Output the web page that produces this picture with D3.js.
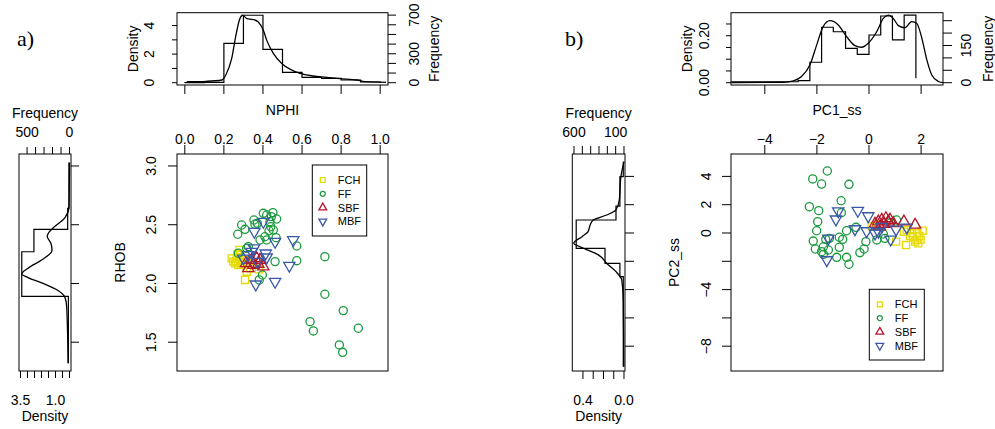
<!DOCTYPE html>
<html><head><meta charset="utf-8">
<script src="https://cdn.jsdelivr.net/npm/d3@7"></script>
<style>body{margin:0;background:#fff}svg{display:block}</style>
</head><body><svg id="c" width="995" height="429"></svg>
<script>
// ---------------- DATA ----------------
const classes = ["FCH", "FF", "SBF", "MBF"];
// Panel a: NPHI vs RHOB
const fchNphi = [0.248,0.257,0.266,0.274,0.283,0.291,0.279,0.300,0.317,0.308,0.337,0.380,0.317,0.240,0.334,0.269,0.262,0.287];
const fchRhob = [2.186,2.172,2.214,2.157,2.243,2.200,2.285,2.172,2.100,2.030,2.194,2.121,2.200,2.214,2.129,2.251,2.190,2.160];
const ffNphi = [0.271,0.291,0.308,0.354,0.359,0.402,0.419,0.451,0.470,0.436,0.440,0.431,0.410,0.385,0.419,0.467,0.325,0.317,0.274,0.462,0.573,0.573,0.397,0.381,0.371,0.443,0.453,0.717,0.717,0.811,0.641,0.658,0.888,0.791,0.808];
const ffRhob = [2.419,2.498,2.461,2.540,2.504,2.597,2.583,2.603,2.549,2.526,2.483,2.449,2.398,2.370,2.370,2.390,2.313,2.300,2.257,2.186,2.319,2.194,2.072,2.030,2.512,2.569,2.455,2.228,1.908,1.769,1.675,1.596,1.619,1.477,1.414];
const sbfNphi = [0.342,0.368,0.385,0.402,0.325,0.351,0.313,0.376];
const sbfRhob = [2.200,2.214,2.200,2.143,2.129,2.157,2.172,2.166];
const mbfNphi = [0.356,0.402,0.462,0.555,0.535,0.462,0.363,0.354,0.342,0.414,0.419,0.325,0.371,0.300];
const mbfRhob = [2.441,2.526,2.356,2.370,2.151,2.015,1.993,2.300,2.271,2.257,2.223,2.243,2.186,2.214];
// Panel b: PC1_ss vs PC2_ss
const fchPc1 = [0.10,0.27,1.34,1.45,1.64,1.70,1.83,1.93,2.06,1.98,1.04,1.42,1.77,1.57,1.85,1.89];
const fchPc2 = [0.49,0.57,0.09,0.21,-0.02,-0.30,-0.49,-0.21,0.16,-0.49,-0.61,-0.85,-0.61,-0.21,-0.02,-0.73];
const ffPc1 = [-2.16,-1.60,-1.82,-0.77,-2.29,-1.93,-1.07,-1.06,-1.97,-2.01,-2.14,-2.06,-1.82,-1.75,-1.66,-1.52,-1.56,-1.75,-1.24,-1.14,-1.14,-1.01,-0.86,-0.77,-0.86,-0.50,-0.12,-0.19,-0.35,0.30,0.61,0.55,0.84,1.06];
const ffPc2 = [3.82,4.38,3.46,3.44,1.86,1.58,2.28,1.43,0.80,0.16,-0.57,-1.13,-1.32,-0.97,-0.45,-0.38,-1.20,-1.51,-1.72,-1.01,-0.30,-0.45,-1.72,-2.21,0.16,0.40,-0.61,-1.13,-1.39,-0.49,-0.38,-0.07,0.73,0.92];
const sbfPc1 = [0.36,0.49,0.65,0.74,0.58,0.93,1.34,1.77,0.42,0.81,0.23];
const sbfPc2 = [0.80,0.92,1.04,0.80,0.64,0.69,0.80,0.57,0.45,0.92,0.64];
const mbfPc1 = [-1.62,-1.56,-1.27,-1.18,-0.43,-0.03,-0.54,-0.09,0.23,0.49,0.83,1.04,1.45,0.36];
const mbfPc2 = [-1.91,-0.38,0.97,1.55,1.58,1.20,0.28,0.14,-0.02,0.45,-0.45,0.26,0.40,0.09];

// Marginal histograms (density) and density curves
const nphiBreaks = [0,0.1,0.2,0.3,0.4,0.5,0.6,0.7,0.8,0.9,1.0];
const nphiDensity = [0.01,0.03,2.75,4.72,2.33,0.72,0.37,0.30,0.19,0.05];
const nphiCurveX = [0.01,0.11,0.19,0.21,0.24,0.26,0.279,0.296,0.317,0.351,0.376,0.402,0.419,0.453,0.496,0.538,0.59,0.658,0.726,0.794,0.88,0.93,1.03];
const nphiCurveD = [0.07,0.10,0.19,0.54,1.70,3.20,4.37,4.72,4.49,4.42,4.25,3.67,2.98,2.05,1.35,0.95,0.65,0.47,0.38,0.28,0.19,0.07,0.03];

const rhobBreaks = [3.03,2.64,2.46,2.27,1.89,1.32];
const rhobDensity = [0.04,0.13,2.54,3.41,0.08];
const rhobCurveY = [3.03,2.65,2.56,2.48,2.43,2.40,2.34,2.28,2.20,2.13,2.08,2.05,2.00,1.94,1.88,1.80,1.32];
const rhobCurveD = [0.00,0.04,0.32,1.10,1.50,1.59,1.32,1.25,1.99,2.96,3.41,2.96,1.89,0.82,0.32,0.20,0.10];

const pc1Breaks = [-5.3,-2.72,-2.27,-1.82,-1.37,-0.90,-0.45,0.0,0.45,0.90,1.35,1.80];
const pc1Density = [0.004,0.009,0.087,0.236,0.217,0.146,0.121,0.203,0.284,0.182,0.288];
const pc1LastDrop = 0.019;
const pc1CurveX = [-5.28,-3.3,-2.9,-2.59,-2.27,-2.01,-1.76,-1.5,-1.18,-0.86,-0.54,-0.28,-0.03,0.30,0.55,0.74,0.93,1.13,1.38,1.64,1.83,2.03,2.22,2.41,2.67,2.84];
const pc1CurveD = [0.0,0.002,0.008,0.026,0.075,0.16,0.239,0.264,0.246,0.196,0.158,0.151,0.168,0.218,0.274,0.288,0.274,0.243,0.234,0.26,0.253,0.189,0.097,0.033,0.005,0.0];

const pc2Breaks = [5.04,3.98,1.90,0.92,-1.08,-2.14,-3.09,-9.45];
const pc2Density = [0.007,0.04,0.078,0.466,0.185,0.04,0.007];
const pc2CurveY = [5.04,3.98,2.33,1.63,1.27,0.92,0.57,0.10,-0.26,-0.73,-1.08,-1.55,-2.14,-2.73,-3.32,-4.73,-9.45];
const pc2CurveD = [0.0,0.03,0.046,0.078,0.168,0.30,0.33,0.35,0.41,0.49,0.395,0.25,0.17,0.078,0.022,0.007,0.002];

// counts per unit density (links density axis to frequency axis)
const nphiCountsPerDensity = 148;
const rhobCountsPerDensity = 165;
const pc1CountsPerDensity = 947;
const pc2CountsPerDensity = 1231;

// tick values / labels
const nphiTicks = [0,0.2,0.4,0.6,0.8,1.0];
const rhobTicks = [1.5,2.0,2.5,3.0];
const pc1Ticks = [-4,-2,0,2];
const pc2Ticks = [-8,-6,-4,-2,0,2,4];
const pc2Labels = [-8,-4,0,2,4];
const nphiDensTicks = [0,1,2,3,4], nphiDensLabels = [0,2,4];
const nphiFreqTicks = [0,100,200,300,400,500,600,700], nphiFreqLabels = [0,300,700];
const rhobFreqTicks = [0,100,200,300,400,500], rhobFreqLabels = [500,0];
const rhobDensTicks = [0,0.5,1.0,1.5,2.0,2.5,3.0,3.5], rhobDensLabels = [3.5,1.0];
const pc1DensTicks = [0,0.05,0.10,0.15,0.20,0.25], pc1DensLabels = [0,0.2];
const pc1FreqTicks = [0,50,100,150,200,250], pc1FreqLabels = [0,150];
const pc2FreqTicks = [0,100,200,300,400,500,600], pc2FreqLabels = [600,100];
const pc2DensTicks = [0,0.1,0.2,0.3,0.4], pc2DensLabels = [0.4,0];

// ---------------- DRAW ----------------
const svg = d3.select('#c');
svg.append('rect').attr('width',995).attr('height',429).attr('fill','#fff');
const FONT = '"Liberation Sans", Arial, Helvetica, sans-serif';
const colors = {FCH:'#e6da00', FF:'#1a9a3c', SBF:'#b3172c', MBF:'#3a58a6'};
const minus = s => String(s).replace('-', '\u2212');

function box(x0,y0,x1,y1){
  svg.append('rect').attr('x',x0).attr('y',y0).attr('width',x1-x0).attr('height',y1-y0)
    .attr('fill','none').attr('stroke','#000').attr('stroke-width',1);
}
function hTicks(scale, vals, y, len){
  svg.append('g').selectAll('line').data(vals).join('line')
    .attr('x1', d=>scale(d)).attr('x2', d=>scale(d)).attr('y1', y).attr('y2', y+len)
    .attr('stroke','#000').attr('stroke-width',1);
}
function vTicks(scale, vals, x, len){
  svg.append('g').selectAll('line').data(vals).join('line')
    .attr('y1', d=>scale(d)).attr('y2', d=>scale(d)).attr('x1', x).attr('x2', x+len)
    .attr('stroke','#000').attr('stroke-width',1);
}
function htext(x,y,str,size,anchor,family){
  return svg.append('text').attr('x',x).attr('y',y).text(str)
    .attr('font-family', family||FONT).attr('font-size',size).attr('text-anchor',anchor||'middle').attr('fill','#000');
}
function vtext(bx,cy,str,size){
  return svg.append('text').attr('transform',`translate(${bx},${cy}) rotate(-90)`).text(str)
    .attr('font-family',FONT).attr('font-size',size).attr('text-anchor','middle').attr('fill','#000');
}
function hLabels(scale, vals, y, fmt){ vals.forEach(v => htext(scale(v), y, fmt(v), 14)); }
function vLabels(scale, vals, bx, fmt){ vals.forEach(v => vtext(bx, scale(v), fmt(v), 14)); }

function stepPathH(breaks, dens, sx, sy, start, end){
  const pts = [[breaks[0], start]];
  dens.forEach((d,i)=>{ pts.push([breaks[i], d]); pts.push([breaks[i+1], d]); });
  pts.push([breaks[breaks.length-1], end]);
  svg.append('path').attr('d', d3.line().x(p=>sx(p[0])).y(p=>sy(p[1]))(pts))
    .attr('fill','none').attr('stroke','#000').attr('stroke-width',1.2);
}
function stepPathV(breaks, dens, sx, sy){
  const pts = [];
  dens.forEach((d,i)=>{ pts.push([d, breaks[i]]); pts.push([d, breaks[i+1]]); });
  svg.append('path').attr('d', d3.line().x(p=>sx(p[0])).y(p=>sy(p[1]))(pts))
    .attr('fill','none').attr('stroke','#000').attr('stroke-width',1.2);
}
function curveH(xs, ds, sx, sy){
  svg.append('path').attr('d', d3.line().curve(d3.curveMonotoneX).x((d,i)=>sx(xs[i])).y((d,i)=>sy(ds[i]))(xs))
    .attr('fill','none').attr('stroke','#000').attr('stroke-width',1.3);
}
function curveV(ys, ds, sx, sy){
  svg.append('path').attr('d', d3.line().curve(d3.curveMonotoneY).x((d,i)=>sx(ds[i])).y((d,i)=>sy(ys[i]))(ys))
    .attr('fill','none').attr('stroke','#000').attr('stroke-width',1.3);
}
const symbols = {
  FCH:{type:d3.symbolSquare, size:50, rot:0, lsize:24},
  FF:{type:d3.symbolCircle, size:52, rot:0, lsize:20},
  SBF:{type:d3.symbolTriangle, size:56, rot:0, lsize:26},
  MBF:{type:d3.symbolTriangle, size:56, rot:180, lsize:26}
};
function points(xs, ys, sx, sy, cls){
  const s = symbols[cls];
  svg.append('g').selectAll('path').data(xs).join('path')
    .attr('transform',(d,i)=>`translate(${sx(xs[i])},${sy(ys[i])}) rotate(${s.rot})`)
    .attr('d', d3.symbol().type(s.type).size(s.size)())
    .attr('fill','none').attr('stroke',colors[cls]).attr('stroke-width',1.3);
}
function legend(x0,y0,x1,y1){
  box(x0,y0,x1,y1);
  classes.forEach((c,i)=>{
    const s = symbols[c];
    const cy = y0 + 15 + i*13.8, cx = x0 + 10.5;
    svg.append('path').attr('transform',`translate(${cx},${cy}) rotate(${s.rot})`)
      .attr('d', d3.symbol().type(s.type).size(s.lsize)())
      .attr('fill','none').attr('stroke',colors[c]).attr('stroke-width',1.3);
    htext(cx+15, cy+4, c, 11, 'start');
  });
}

// ================= PANEL A =================
const xA = d3.scaleLinear().domain([-0.04,1.04]).range([177,388]);
const yDensA = d3.scaleLinear().domain([-0.16,4.9]).range([85,12.7]);
const yA = d3.scaleLinear().domain([1.255,3.102]).range([371,154]);
const xDensA = d3.scaleLinear().domain([3.607,-0.107]).range([19,71]);

htext(17,46,'a)',22,'start','"Liberation Serif", "Times New Roman", serif');

box(177,12.7,388,85);
stepPathH(nphiBreaks, nphiDensity, xA, yDensA, 0, 0);
curveH(nphiCurveX, nphiCurveD, xA, yDensA);
vTicks(yDensA, nphiDensTicks, 177, -5);
vLabels(yDensA, nphiDensLabels, 154, d=>String(d));
vtext(137.7, (12.7+85)/2, 'Density', 14);
const fA = v => yDensA(v / nphiCountsPerDensity);
vTicks(fA, nphiFreqTicks, 388, 8);
vLabels(fA, nphiFreqLabels, 418.5, d=>String(d));
vtext(438.5, (12.7+85)/2, 'Frequency', 14);
hTicks(xA, nphiTicks, 85, 9);
htext((177+388)/2, 115, 'NPHI', 14);

box(177,154,388,371);
hTicks(xA, nphiTicks, 154, -9);
hLabels(xA, nphiTicks, 144, d=>d.toFixed(1));
vTicks(yA, rhobTicks, 177, -9);
vLabels(yA, rhobTicks, 156, d=>d.toFixed(1));
vtext(125, (154+371)/2, 'RHOB', 14);
points(fchNphi, fchRhob, xA, yA, 'FCH');
points(ffNphi, ffRhob, xA, yA, 'FF');
points(sbfNphi, sbfRhob, xA, yA, 'SBF');
points(mbfNphi, mbfRhob, xA, yA, 'MBF');
legend(312.3,165,366.7,236);

box(19,154,71,371);
stepPathV(rhobBreaks, rhobDensity, xDensA, yA);
curveV(rhobCurveY, rhobCurveD, xDensA, yA);
vTicks(yA, rhobTicks, 71, 8);
const fxA = v => xDensA(v / rhobCountsPerDensity);
hTicks(fxA, rhobFreqTicks, 154, -7);
hLabels(fxA, rhobFreqLabels, 137, d=>String(d));
htext(45, 118, 'Frequency', 14);
hTicks(xDensA, rhobDensTicks, 371, 7);
hLabels(xDensA, rhobDensLabels, 405, d=>d.toFixed(1));
htext(45, 421, 'Density', 14);

// ================= PANEL B =================
const xB = d3.scaleLinear().domain([-5.298,2.841]).range([731,943]);
const yDensB = d3.scaleLinear().domain([-0.0098,0.298]).range([85,12.7]);
const yB = d3.scaleLinear().domain([-9.753,5.583]).range([371,154]);
const xDensB = d3.scaleLinear().domain([0.504,-0.0098]).range([572.3,625]);

htext(565,46,'b)',22,'start','"Liberation Serif", "Times New Roman", serif');

box(731,12.7,943,85);
stepPathH(pc1Breaks, pc1Density, xB, yDensB, pc1Density[0], pc1LastDrop);
curveH(pc1CurveX, pc1CurveD, xB, yDensB);
vTicks(yDensB, pc1DensTicks, 731, -5);
vLabels(yDensB, pc1DensLabels, 708.5, d=>d.toFixed(2));
vtext(692, (12.7+85)/2, 'Density', 14);
const fB = v => yDensB(v / pc1CountsPerDensity);
vTicks(fB, pc1FreqTicks, 943, 9);
vLabels(fB, pc1FreqLabels, 971, d=>String(d));
vtext(992.5, (12.7+85)/2, 'Frequency', 14);
hTicks(xB, pc1Ticks, 85, 9);
htext((731+943)/2, 115, 'PC1_ss', 14);

box(731,154,943,371);
hTicks(xB, pc1Ticks, 154, -9);
hLabels(xB, pc1Ticks, 144, d=>minus(d));
vTicks(yB, pc2Ticks, 731, -9);
vLabels(yB, pc2Labels, 711, d=>minus(d));
vtext(679, (154+371)/2, 'PC2_ss', 14);
points(fchPc1, fchPc2, xB, yB, 'FCH');
points(ffPc1, ffPc2, xB, yB, 'FF');
points(sbfPc1, sbfPc2, xB, yB, 'SBF');
points(mbfPc1, mbfPc2, xB, yB, 'MBF');
legend(869.3,289.3,924.3,360);

box(572.3,154,625,371);
stepPathV(pc2Breaks, pc2Density, xDensB, yB);
curveV(pc2CurveY, pc2CurveD, xDensB, yB);
vTicks(yB, pc2Ticks, 625, 9);
const fxB = v => xDensB(v / pc2CountsPerDensity);
hTicks(fxB, pc2FreqTicks, 154, -8);
hLabels(fxB, pc2FreqLabels, 137, d=>String(d));
htext(598.7, 118, 'Frequency', 14);
hTicks(xDensB, pc2DensTicks, 371, 8);
hLabels(xDensB, pc2DensLabels, 405, d=>d.toFixed(1));
htext(598.7, 421, 'Density', 14);
</script></body></html>
